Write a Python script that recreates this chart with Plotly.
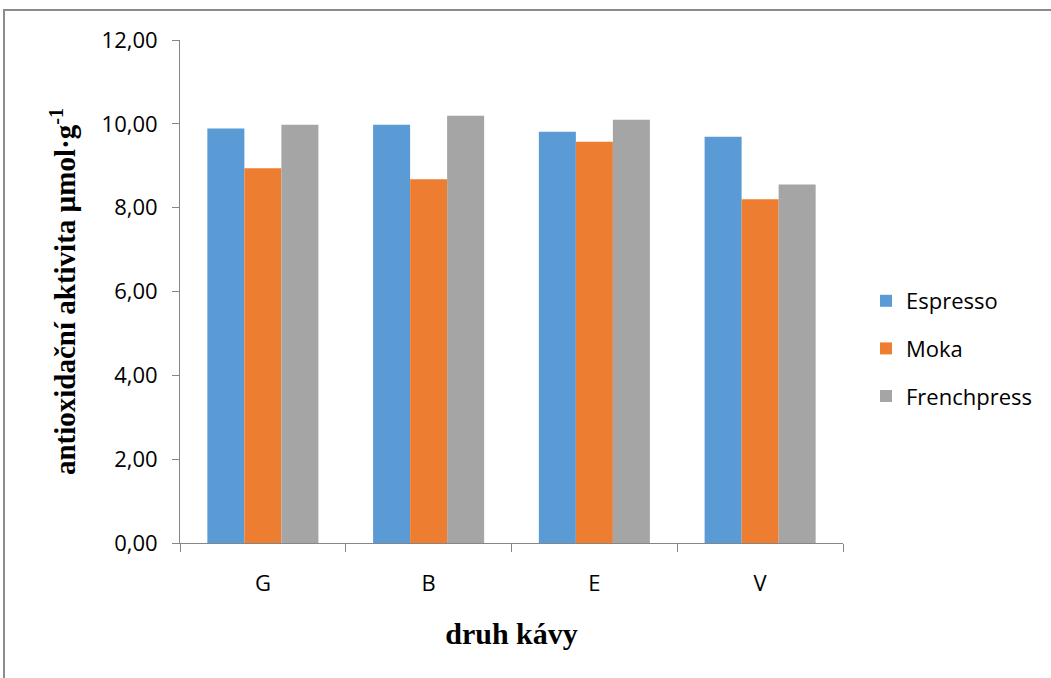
import plotly.graph_objects as go

# Coffee types and measured antioxidant activity per brewing method
druhy = ["G", "B", "E", "V"]
espresso = [9.89, 9.98, 9.81, 9.69]
moka = [8.94, 8.68, 9.57, 8.20]
frenchpress = [9.98, 10.19, 10.10, 8.55]
y_ticks = [0, 2, 4, 6, 8, 10, 12]
y_tick_text = ["0,00", "2,00", "4,00", "6,00", "8,00", "10,00", "12,00"]

W, H = 1051, 678
L, R, T, B = 180, 208, 40, 135
pw, ph = W - L - R, H - T - B

sans = "Open Sans, Liberation Sans, Arial, sans-serif"
serif = "Liberation Serif, Times New Roman, serif"

fig = go.Figure()
for name, vals, col in [("Espresso", espresso, "#5B9BD5"),
                        ("Moka", moka, "#ED7D31"),
                        ("Frenchpress", frenchpress, "#A5A5A5")]:
    fig.add_trace(go.Bar(x=druhy, y=vals, name=name, legendgroup=name,
                         marker=dict(color=col, line=dict(width=0))))

axis_col = "#868686"
fig.update_layout(
    width=W, height=H,
    margin=dict(l=L, r=R, t=T, b=B),
    paper_bgcolor="white", plot_bgcolor="white",
    barmode="group", bargap=0.33, bargroupgap=0,
    font=dict(family=sans, size=22, color="#000000"),
    legend=dict(x=(866 - L) / pw, y=(543 - 280) / ph, xanchor="left", yanchor="top",
                font=dict(family=sans, size=22), itemsizing="constant",
                tracegroupgap=16, bgcolor="rgba(0,0,0,0)"),
    xaxis=dict(
        showline=True, linecolor=axis_col, linewidth=1,
        ticks="outside", tickson="boundaries", ticklen=8, tickcolor=axis_col,
        tickfont=dict(family=sans, size=22), ticklabelstandoff=21,
        title=dict(text="<b>druh kávy</b>", standoff=26,
                   font=dict(family=serif, size=30, color="#000000")),
    ),
    yaxis=dict(
        range=[0, 12], tickvals=y_ticks, ticktext=y_tick_text,
        showline=True, linecolor=axis_col, linewidth=1,
        ticks="outside", ticklen=7, tickcolor=axis_col,
        showgrid=False, zeroline=False,
        tickfont=dict(family=sans, size=22), ticklabelstandoff=10,
        title=dict(text="<b>antioxidační aktivita µmol·g<sup>-1</sup></b>", standoff=17,
                   font=dict(family=serif, size=29, color="#000000")),
    ),
)

# Outer chart frame
fig.add_shape(type="rect", xref="paper", yref="paper",
              x0=(4 - L) / pw, x1=(W + 20 - L) / pw,
              y0=(543 - (H + 20)) / ph, y1=(543 - 10) / ph,
              line=dict(color="#8c8c8c", width=2), fillcolor="rgba(0,0,0,0)",
              layer="below")

fig.write_html("out.html")
